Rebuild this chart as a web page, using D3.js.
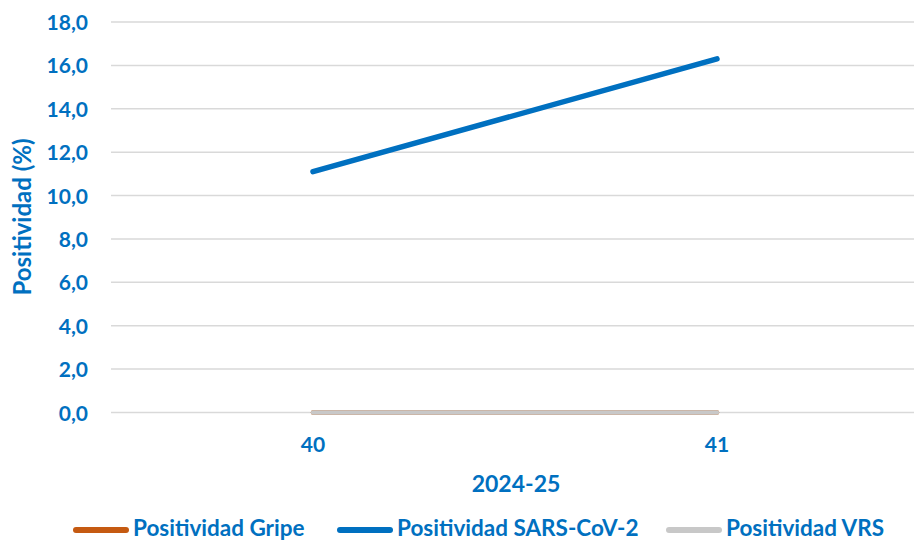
<!DOCTYPE html>
<html><head><meta charset="utf-8">
<script src="https://cdn.jsdelivr.net/npm/d3@7"></script>
<style>body{margin:0;background:#fff}svg{display:block}text{font-family:Lato,"Open Sans",sans-serif;font-weight:bold;fill:#0070C0}</style>
</head><body><svg id="c" width="914" height="541"></svg>
<script>
const categories = ["40", "41"];
const gripe = [0, 0];
const sars = [11.1, 16.3];
const vrs = [0, 0];
const yTicks = [0, 2, 4, 6, 8, 10, 12, 14, 16, 18];
const seriesNames = ["Positividad Gripe", "Positividad SARS-CoV-2", "Positividad VRS"];
const seriesColors = ["#C55A11", "#0070C0", "#C8C8C8"];

const svg = d3.select("#c");
const x = d3.scaleBand().domain(categories).range([111, 919]);
const y = d3.scaleLinear().domain([0, 18]).range([412.5, 22]);
const cx = d => x(d) + x.bandwidth() / 2;

svg.append("g").selectAll("line").data(yTicks).join("line")
  .attr("x1", 111).attr("x2", 914).attr("y1", d => y(d)).attr("y2", d => y(d))
  .attr("stroke", "#D9D9D9").attr("stroke-width", 1.5);

const yAxis = d3.axisLeft(y).tickValues(yTicks).tickSize(0).tickPadding(0)
  .tickFormat(d => d3.format(".1f")(d).replace(".", ","));
const ga = svg.append("g").attr("transform", "translate(88,0)").call(yAxis);
ga.select(".domain").remove();
ga.selectAll("text").style("font-size", "21px").style("font-family", "Lato").attr("dy", "0.36em").attr("fill", "#0070C0");

const xAxis = d3.axisBottom(x).tickSize(0).tickPadding(0);
const gx = svg.append("g").attr("transform", "translate(0,437)").call(xAxis);
gx.select(".domain").remove();
gx.selectAll("text").style("font-size", "21px").style("font-family", "Lato").attr("dy", "0.72em").attr("fill", "#0070C0");

const line = d3.line().x((d, i) => cx(categories[i])).y(d => y(d));
[gripe, sars, vrs].forEach((s, i) => {
  svg.append("path").datum(s).attr("d", line).attr("fill", "none")
    .attr("stroke", seriesColors[i]).attr("stroke-width", i === 1 ? 5.5 : 4.5)
    .attr("stroke-linecap", "round");
});

svg.append("text").attr("transform", "translate(31,217) rotate(-90)")
  .attr("text-anchor", "middle").style("font-size", "24px").text("Positividad (%)");
svg.append("text").attr("x", 516).attr("y", 492).attr("text-anchor", "middle")
  .style("font-size", "23px").text("2024-25");

const legX = [76, 340, 669];
const lg = svg.append("g").selectAll("g").data(seriesNames).join("g")
  .attr("transform", (d, i) => `translate(${legX[i]},530)`);
lg.append("line").attr("x1", 0).attr("x2", 50).attr("y1", 0).attr("y2", 0)
  .attr("stroke", (d, i) => seriesColors[i]).attr("stroke-width", 6).attr("stroke-linecap", "round");
lg.append("text").attr("x", 57).attr("y", 6).style("font-size", "22.5px").text(d => d);
</script></body></html>
